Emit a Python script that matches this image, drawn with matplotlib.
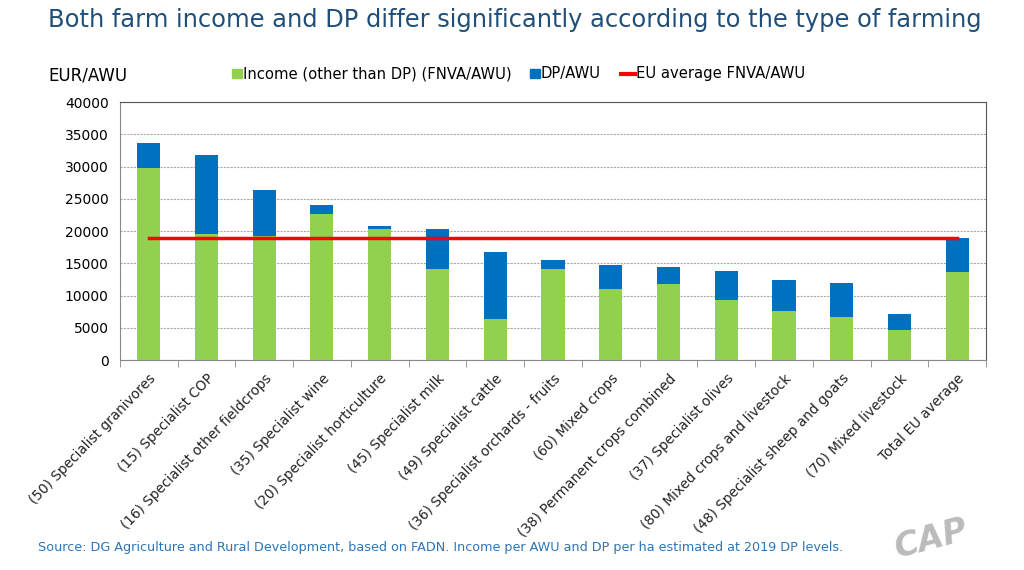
import numpy as np
import matplotlib.pyplot as plt

# values (EUR/AWU)
farm_types = ["(50) Specialist granivores", "(15) Specialist COP",
              "(16) Specialist other fieldcrops", "(35) Specialist wine",
              "(20) Specialist horticulture", "(45) Specialist milk",
              "(49) Specialist cattle", "(36) Specialist orchards - fruits",
              "(60) Mixed crops", "(38) Permanent crops combined",
              "(37) Specialist olives", "(80) Mixed crops and livestock",
              "(48) Specialist sheep and goats", "(70) Mixed livestock",
              "Total EU average"]
income = [29800, 19500, 19200, 22700, 20300, 14200, 6400, 14200,
          11100, 11800, 9400, 7700, 6700, 4700, 13700]
total = [33700, 31800, 26400, 24000, 20800, 20400, 16700, 15600,
         14700, 14400, 13800, 12400, 11900, 7100, 18900]
eu_avg = 18900

dp = [t - i for t, i in zip(total, income)]
x = np.arange(len(farm_types))

fig = plt.figure(figsize=(10.24, 5.7), dpi=100)
ax = fig.add_axes([0.117, 0.368, 0.846, 0.453])

ax.bar(x, income, width=0.4, color="#92D050", zorder=3)
ax.bar(x, dp, width=0.4, bottom=income, color="#0070C0", zorder=3)
ax.plot(x, [eu_avg] * len(x), color="#FF0000", lw=2.5, zorder=4)

ax.set_xlim(-0.5, len(x) - 0.5)
ax.set_ylim(0, 40000)
ax.set_yticks(np.arange(0, 40001, 5000))
ax.yaxis.grid(True, color="#AAAAAA", ls=(0, (2, 1)), lw=0.8, zorder=0)
ax.tick_params(axis="y", labelsize=10, length=0, pad=8)

# tick marks on category boundaries, labels at centres
ax.set_xticks(x)
ax.set_xticklabels(farm_types, rotation=46, ha="right", rotation_mode="anchor",
                   fontsize=9.8, color="#222222")
ax.tick_params(axis="x", length=0, pad=8)
ax.set_xticks(np.arange(-0.5, len(x)), minor=True)
ax.tick_params(axis="x", which="minor", length=5, color="#888888")

for s in ax.spines.values():
    s.set_color("#888888")
ax.spines["top"].set_color("#555555")
ax.spines["right"].set_color("#555555")

fig.text(0.047, 0.965, "Both farm income and DP differ significantly according to the type of farming",
         fontsize=17.4, color="#1F4E79", va="center")
fig.text(0.047, 0.868, "EUR/AWU", fontsize=12, va="center")

# legend drawn as text line
leg_items = [("Income (other than DP) (FNVA/AWU)", "#92D050", "s", 0.227),
             ("DP/AWU", "#0070C0", "s", 0.518),
             ("EU average FNVA/AWU", "#FF0000", "_", 0.606)]
for label, col, mk, xp in leg_items:
    if mk == "s":
        fig.patches.append(plt.Rectangle((xp, 0.863), 0.009, 0.016, color=col,
                                         transform=fig.transFigure))
        fig.text(xp + 0.010, 0.871, label, fontsize=10.6, va="center")
    else:
        fig.lines.append(plt.Line2D([xp, xp + 0.014], [0.871, 0.871], color=col,
                                    lw=3, transform=fig.transFigure))
        fig.text(xp + 0.015, 0.871, label, fontsize=10.6, va="center")

fig.text(0.037, 0.04, "Source: DG Agriculture and Rural Development, based on FADN. "
         "Income per AWU and DP per ha estimated at 2019 DP levels.",
         fontsize=9.2, color="#2E75B6", va="center")
fig.text(0.91, 0.055, "CAP", fontsize=24, fontweight="bold", style="italic",
         color="#BBBBBB", rotation=15, va="center", ha="center")

fig.savefig("out.png", dpi=100)
